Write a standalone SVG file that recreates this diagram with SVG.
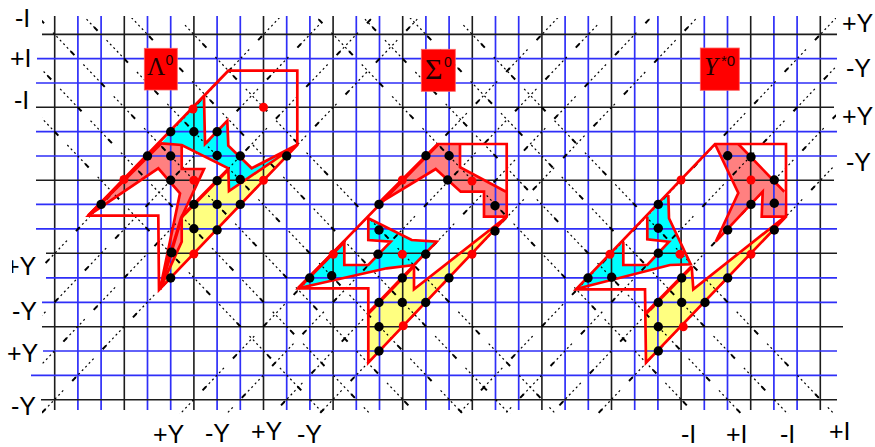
<svg xmlns="http://www.w3.org/2000/svg" width="875" height="447" viewBox="0 0 875 447">
<style>
.bk{fill:none;stroke:#1c1c1c;stroke-width:1.6}
.bl{fill:none;stroke:#2f2ff8;stroke-width:1.7}
.dg{fill:none;stroke:#000;stroke-width:1.2;stroke-dasharray:2 3 2 3 2 3 2 3 2 3 2 17}
.dh{fill:none;stroke:#000;stroke-width:2;stroke-dasharray:5 39;stroke-dashoffset:18}
.ol{fill:none;stroke:#f00;stroke-width:2.7;stroke-linejoin:miter}
.th{fill:none;stroke:#f00;stroke-width:3.4}
.cy{fill:#0ff}.pk{fill:#ff8080}.ye{fill:#ffff80}
.sq{fill:#f00;stroke:#ff6060;stroke-width:.8}
.b{fill:#000}.r{fill:#f00}
.ax{font-family:"Liberation Sans",Arial,sans-serif;font-size:25px;fill:#000}
.gr{font-family:"Liberation Serif","Times New Roman",serif;fill:#200}
.su{font-family:"Liberation Sans",Arial,sans-serif;fill:#200}
</style>
<defs>
<clipPath id="box"><rect x="42" y="18" width="794" height="396"/></clipPath>
<clipPath id="cut"><rect x="12" y="240" width="40" height="50"/></clipPath>
<path id="dgA" d="M-84.5 -14.2L379.5 472.4M-61.3 -38.5L425.9 472.4M-38.1 -62.9L472.3 472.4M-14.9 -87.2L518.7 472.4M101.1 -14.2L565.1 472.4M124.3 -38.5L611.5 472.4M240.3 -62.9L750.7 472.4M263.5 -87.2L797.1 472.4M379.5 -14.2L843.5 472.4M402.7 -38.5L889.9 472.4"/>
<path id="dgB" d="M309.9 -14.2L-154.1 472.4M379.5 -38.5L-107.7 472.4M449.1 -62.9L-61.3 472.4M518.7 -87.2L-14.9 472.4M588.3 -14.2L124.3 472.4M657.9 -38.5L170.7 472.4M727.5 -62.9L217.1 472.4M797.1 -87.2L263.5 472.4M866.7 -14.2L402.7 472.4M936.3 -38.5L449.1 472.4M1005.9 -62.9L495.5 472.4M1075.5 -87.2L541.9 472.4"/>
</defs>
<g id="fills">
<polygon class="cy" points="204,96.7 205,144 227.3,120.7 228.3,145.7 251.7,168.3 296.7,145 229,191 228.3,168.3 181.7,145 161,143.3"/>
<polygon class="pk" points="161,143.3 181.7,144.3 181.7,169 204,169 181.7,216.7 181.7,241.7 160,289.3 180,193.3 158.3,168.3 88.3,215.7"/>
<polygon class="ye" points="181.7,216.7 228.3,169.3 229,191 296.7,145 159,290 181.7,241.7"/>
<polygon class="pk" points="438.3,144 460,144 460,167.3 506,191.7 506,216.7 484,216.7 484,191.7 460.7,191.7 435.7,169 379,203.3"/>
<polygon class="cy" points="298.3,288.3 344.3,241.7 344.3,265 368.3,265 390.7,241.7 368.3,240 368.3,218.3 411.7,240 436.7,241.7 414,265 386.7,268.3"/>
<polygon class="ye" points="368.3,313.3 414,265.7 414,289.3 506.7,216.7 368.3,362.7"/>
<polygon class="pk" points="715.7,144 738.3,144 784.3,191.7 785,216.7 761.7,216.7 762.7,191.7 715.7,241.7 738.3,193"/>
<polygon class="cy" points="576,289 623.3,241.7 623.3,265 647.3,265 669,241.7 647.3,239.3 647.3,216.7 668.3,195 669,218.3 690.7,264.3 670,265"/>
<polygon class="ye" points="646,313.3 691.7,266.7 693.3,289.3 785,216.7 646,362.7"/>
</g>
<g id="grid">
<path class="bl" d="M77.9 16V410M101.1 16V410M147.5 16V410M170.7 16V410M217.1 16V410M240.3 16V410M286.7 16V410M309.9 16V410M356.3 16V410M379.5 16V410M425.9 16V410M449.1 16V410M495.5 16V410M518.7 16V410M565.1 16V410M588.3 16V410M634.7 16V410M657.9 16V410M704.3 16V410M727.5 16V410M773.9 16V410M797.1 16V410"/>
<path class="bk" d="M54.7 16V410M124.3 16V410M193.9 16V410M263.5 16V410M333.1 16V410M402.7 16V410M472.3 16V410M541.9 16V410M611.5 16V410M681.1 16V410M750.7 16V410M820.3 16V410"/>
<path class="bl" d="M37 58.7H837M36 83H837M36 131.7H837M36 156H837M36 204.4H837M36 228.8H837M46 277.8H837M42 302.3H837M43 351H837M31 375.3H837"/>
<path class="bk" d="M42 34.4H837M36 107.3H834M36 180.3H834M46 253.2H837M42 326.8H843M41 399.7H837"/>
</g>
<g id="diagonals" clip-path="url(#box)">
<use href="#dgA" class="dg"/><use href="#dgA" class="dh"/>
<use href="#dgB" class="dg"/><use href="#dgB" class="dh"/>
</g>
<g id="lambda0">
<path class="ol" d="M228.3 70.7H297.3V145L159 290L158.3 215.7H88.3Z"/>
<path class="ol" d="M204 96.7L205 144L227.3 120.7L228.3 145.7L251.7 168.3L296.7 145L229 191L228.3 168.3L181.7 145L161 143.3"/>
<path class="ol" d="M181.7 144.3V169H204L181.7 216.7V241.7L160 289.3L180 193.3L158.3 168.3L88.3 215.7"/>
<path class="th" d="M181.7 216.7L228.3 169.3M161 143.3L88.3 215.7M181.7 216.7L160 289.3"/>
<rect class="sq" x="144.3" y="48.3" width="33" height="41.7"/>
<text class="gr" x="147" y="75" font-size="25">Λ</text>
<text class="su" x="165.5" y="64.5" font-size="14">0</text>
<g class="b">
<circle cx="170.7" cy="131.7" r="4.7"/><circle cx="193.9" cy="131.7" r="4.7"/><circle cx="217.1" cy="131.7" r="4.7"/><circle cx="147.5" cy="156" r="4.7"/><circle cx="170.7" cy="156" r="4.7"/><circle cx="217.1" cy="155.5" r="4.7"/><circle cx="240.3" cy="156" r="4.7"/><circle cx="286.7" cy="156" r="4.7"/><circle cx="170.7" cy="180.3" r="4.7"/><circle cx="217.1" cy="180.7" r="4.7"/><circle cx="240.3" cy="179.5" r="4.7"/><circle cx="193.9" cy="204.4" r="4.7"/><circle cx="217.1" cy="204.4" r="4.7"/><circle cx="240.3" cy="204.4" r="4.7"/><circle cx="101.1" cy="204.4" r="4.7"/><circle cx="193.9" cy="228.8" r="4.7"/><circle cx="217.1" cy="230" r="4.7"/><circle cx="171.5" cy="252.5" r="5"/><circle cx="170.7" cy="278" r="4.7"/>
</g>
<g class="r">
<circle cx="193" cy="109" r="4.5"/><circle cx="263.5" cy="107.3" r="4.5"/><circle cx="124" cy="179.5" r="4.5"/><circle cx="193.9" cy="180.3" r="4.5"/><circle cx="263.5" cy="180.3" r="4.5"/><circle cx="193.9" cy="254" r="4.5"/>
</g>
</g>
<g id="sigma0">
<path class="ol" d="M438.3 144H506.7V216.7L368.3 362.7V288.3H298.3Z"/>
<path class="ol" d="M460 144V167.3L506 191.7M506 216.7H484V191.7H460.7L435.7 169L379 203.3"/>
<path class="ol" d="M298.3 288.3L386.7 268.3L414 265L436.7 241.7L411.7 240L368.3 218.3V240L390.7 241.7L368.3 265H344.3V241.7"/>
<path class="ol" d="M414 265.7V289.3L506.7 216.7"/>
<path class="th" d="M368.3 313.3L414 265.7M438.3 144L379 203.3M344.3 241.7L298.3 288.3"/>
<rect class="sq" x="421.3" y="49.3" width="34" height="42"/>
<text class="gr" x="425" y="79" font-size="30">Σ</text>
<text class="su" x="444" y="66.5" font-size="14">0</text>
<g class="b">
<circle cx="425.9" cy="155.7" r="4.7"/><circle cx="449.1" cy="155.7" r="4.7"/><circle cx="447.7" cy="180" r="4.7"/><circle cx="495" cy="205.7" r="4.7"/><circle cx="379" cy="204.4" r="4.7"/><circle cx="379" cy="230" r="4.7"/><circle cx="495" cy="231" r="4.7"/><circle cx="378" cy="254.3" r="4.7"/><circle cx="425.7" cy="254.3" r="4.7"/><circle cx="309.7" cy="278" r="4.7"/><circle cx="331.7" cy="275.7" r="4.7"/><circle cx="402.3" cy="278" r="4.7"/><circle cx="449" cy="278" r="4.7"/><circle cx="379" cy="302.5" r="4.7"/><circle cx="402.3" cy="302.5" r="4.7"/><circle cx="425.7" cy="302.5" r="4.7"/><circle cx="379" cy="326.7" r="4.7"/><circle cx="379" cy="351" r="4.7"/>
</g>
<g class="r">
<circle cx="402.3" cy="180" r="4.5"/><circle cx="472" cy="181" r="4.5"/><circle cx="333.3" cy="254.3" r="4.5"/><circle cx="402.3" cy="254.3" r="4.5"/><circle cx="472" cy="254.3" r="4.5"/><circle cx="403.3" cy="325.7" r="4.5"/>
</g>
</g>
<g id="ystar0">
<path class="ol" d="M715 144H786V216.7L646 362.7L645 289.3H576Z"/>
<path class="ol" d="M738.3 144L784.3 191.7M785 216.7H761.7L762.7 191.7L715.7 241.7L738.3 193L715 144"/>
<path class="ol" d="M668.3 195L669 218.3L690.7 264.3L670 265L576 289M623.3 241.7V265H647.3L669 241.7L647.3 239.3V216.7"/>
<path class="ol" d="M691.7 266.7L693.3 289.3L785 216.7"/>
<path class="th" d="M646 313.3L691.7 266.7"/>
<rect class="sq" x="700.3" y="48" width="39" height="42.3"/>
<text class="gr" x="704" y="75" font-size="25" font-style="italic">Y</text>
<text class="su" x="721" y="65.5" font-size="15">*0</text>
<g class="b">
<circle cx="727.7" cy="155.7" r="4.7"/><circle cx="751" cy="157" r="4.7"/><circle cx="774.3" cy="180" r="4.7"/><circle cx="751" cy="204.4" r="4.7"/><circle cx="774.3" cy="203.3" r="4.7"/><circle cx="727.7" cy="230" r="4.7"/><circle cx="774.3" cy="230" r="4.7"/><circle cx="658.3" cy="204.4" r="4.7"/><circle cx="658.3" cy="228.3" r="4.7"/><circle cx="658.3" cy="253.3" r="4.7"/><circle cx="588" cy="278" r="4.7"/><circle cx="611.7" cy="277.3" r="4.7"/><circle cx="681.7" cy="278" r="4.7"/><circle cx="727.7" cy="278" r="4.7"/><circle cx="658.3" cy="302.5" r="4.7"/><circle cx="681.7" cy="302.5" r="4.7"/><circle cx="705" cy="302.5" r="4.7"/><circle cx="658.3" cy="326.7" r="4.7"/><circle cx="658.3" cy="351" r="4.7"/>
</g>
<g class="r">
<circle cx="681" cy="180" r="4.5"/><circle cx="751" cy="180" r="4.5"/><circle cx="610" cy="254.3" r="4.5"/><circle cx="680" cy="254.3" r="4.5"/><circle cx="751" cy="254.3" r="4.5"/><circle cx="683.3" cy="326.7" r="4.5"/>
</g>
</g>
<g id="labels">
<text class="ax" x="15" y="27">-I</text>
<text class="ax" x="10" y="67">+I</text>
<text class="ax" x="14" y="109">-I</text>
<text class="ax" x="5" y="275" clip-path="url(#cut)">+Y</text>
<text class="ax" x="12" y="320">-Y</text>
<text class="ax" x="7" y="362">+Y</text>
<text class="ax" x="11" y="415">-Y</text>
<text class="ax" x="153" y="443">+Y</text>
<text class="ax" x="205" y="442">-Y</text>
<text class="ax" x="251" y="440">+Y</text>
<text class="ax" x="297" y="443">-Y</text>
<text class="ax" x="842" y="32">+Y</text>
<text class="ax" x="846" y="77">-Y</text>
<text class="ax" x="842" y="125">+Y</text>
<text class="ax" x="846" y="171">-Y</text>
<text class="ax" x="681" y="443">-I</text>
<text class="ax" x="726" y="443">+I</text>
<text class="ax" x="780" y="443">-I</text>
<text class="ax" x="829" y="440">+I</text>
</g>
</svg>
